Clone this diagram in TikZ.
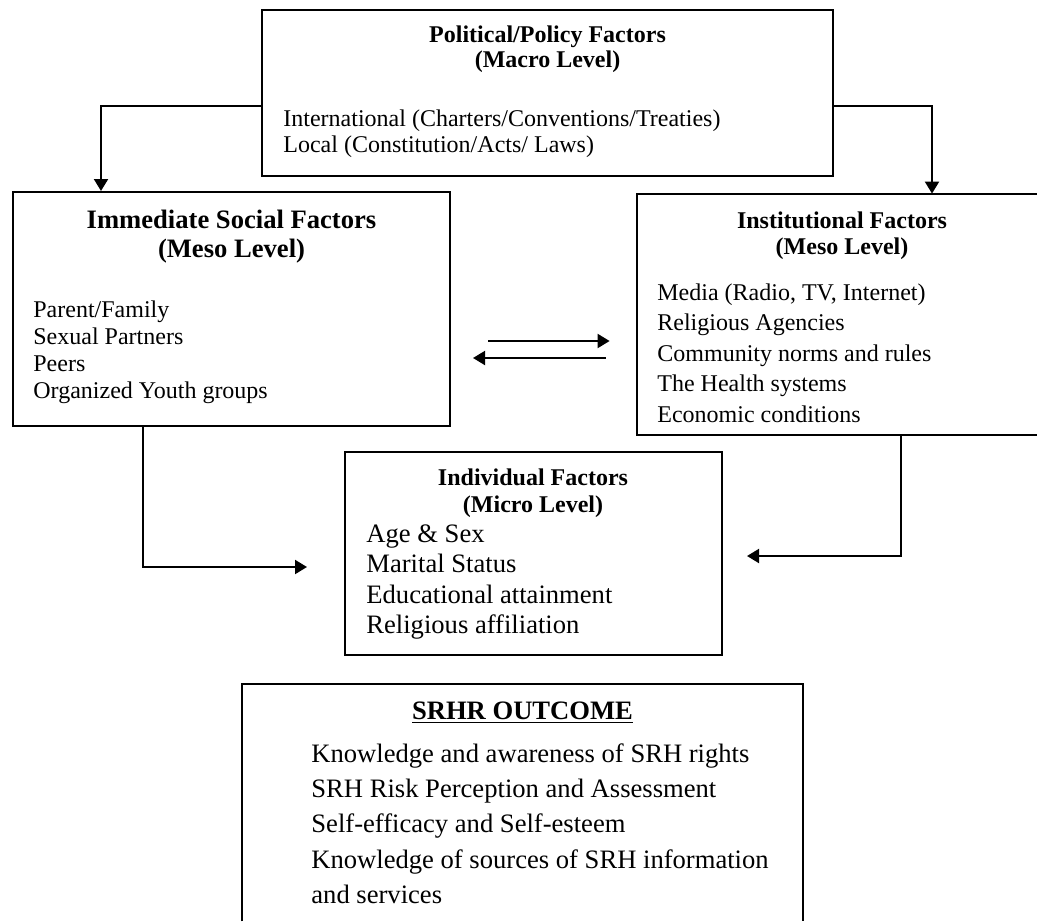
\documentclass[tikz,border=0pt]{standalone}
\usepackage{fontspec}
\setmainfont{Liberation Serif}
\usetikzlibrary{arrows.meta}

\tikzset{
    box/.style={draw, line width=1pt, inner sep=0pt},
    openbox/.style={inner sep=0pt},
    head/.style={align=center, inner sep=0pt, anchor=north},
    list/.style={align=left, inner sep=0pt, anchor=north west},
    arr/.style={line width=1pt, -{Triangle[width=7pt,length=6pt]}},
    edge/.style={line width=1pt}
}

\begin{document}
\begin{tikzpicture}[x=0.5pt, y=-0.5pt]
    \useasboundingbox (0,0) rectangle (1037,921);

    % macro level
    \node[box, minimum width=285.5pt, minimum height=83pt] (macro) at (547.5,93) {};
    \node[head, font=\bfseries\fontsize{12}{12.5}\selectfont] (macrohead) at (547.5,24.5)
        {\strut Political/Policy Factors\\(Macro Level)};
    \node[list, font=\fontsize{12}{13}\selectfont] (macrolist) at (283,107.8)
        {\strut International (Charters/Conventions/Treaties)\\Local (Constitution/Acts/ Laws)};

    % meso level
    \node[box, minimum width=218.5pt, minimum height=117pt] (social) at (231.5,309) {};
    \node[head, font=\bfseries\fontsize{13.3}{14.5}\selectfont] (socialhead) at (231.5,207.7)
        {\strut Immediate Social Factors\\(Meso Level)};
    \node[list, font=\fontsize{12}{13.5}\selectfont] (sociallist) at (33,298.1)
        {\strut Parent/Family\\Sexual Partners\\Peers\\Organized Youth groups};

    \node[openbox, minimum width=200pt, minimum height=120.5pt] (inst) at (837,314.5) {};
    \draw[edge] (inst.north east) -- (inst.north west) -- (inst.south west) -- (inst.south east);
    \node[head, font=\bfseries\fontsize{12}{13}\selectfont] (insthead) at (842,209.8)
        {\strut Institutional Factors\\(Meso Level)};
    \node[list, font=\fontsize{12}{15.25}\selectfont] (instlist) at (657,278.65)
        {\strut Media (Radio, TV, Internet)\\Religious Agencies\\Community norms and rules\\The Health systems\\Economic conditions};

    % micro level
    \node[box, minimum width=188.5pt, minimum height=101.5pt] (indiv) at (533.5,553.5) {};
    \node[head, font=\bfseries\fontsize{12}{13.5}\selectfont] (indivhead) at (533,466.1)
        {\strut Individual Factors\\(Micro Level)};
    \node[list, font=\fontsize{13.3}{15.15}\selectfont] (indivlist) at (366,520.8)
        {\strut Age \& Sex\\Marital Status\\Educational attainment\\Religious affiliation};

    % outcome
    \node[openbox, minimum width=280.5pt, minimum height=118.5pt] (outcome) at (522.5,802.5) {};
    \draw[edge] (outcome.south west) -- (outcome.north west) -- (outcome.north east) -- (outcome.south east);
    \node[head, font=\bfseries\fontsize{13.3}{16}\selectfont] (outcomehead) at (522.5,696.6)
        {\strut\underline{SRHR OUTCOME}};
    \node[list, font=\fontsize{13.3}{17.6}\selectfont] (outcomelist) at (311,737.4)
        {\strut Knowledge and awareness of SRH rights\\SRH Risk Perception and Assessment\\Self-efficacy and Self-esteem\\Knowledge of sources of SRH information\\and services};

    \coordinate (lbend) at (101,106);
    \coordinate (rbend) at (932,106);
    \coordinate (fwd) at (0,341);
    \coordinate (bwd) at (0,358);
    \coordinate (ldown) at (143,567);
    \coordinate (rdown) at (901,556);

    \draw[arr] (macro.west |- lbend) -| (social.north -| lbend);
    \draw[arr] (macro.east |- rbend) -| (inst.north -| rbend);
    \draw[arr, shorten <=18.5pt, shorten >=13.5pt] (social.east |- fwd) -- (inst.west |- fwd);
    \draw[arr, shorten <=15.5pt, shorten >=11pt] (inst.west |- bwd) -- (social.east |- bwd);
    \draw[arr, shorten >=18.5pt] (social.south -| ldown) |- (indiv.west |- ldown);
    \draw[arr, shorten >=12pt] (inst.south -| rdown) |- (indiv.east |- rdown);

\end{tikzpicture}
\end{document}
